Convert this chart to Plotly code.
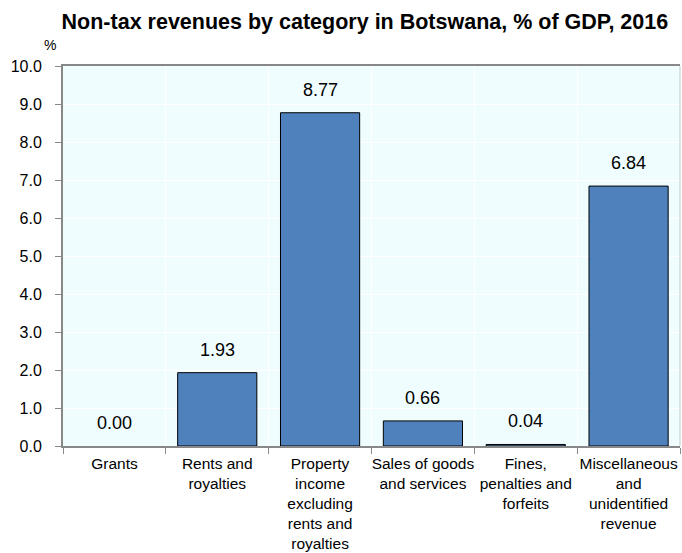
import plotly.graph_objects as go

categories = [
    "Grants",
    "Rents and<br>royalties",
    "Property<br>income<br>excluding<br>rents and<br>royalties",
    "Sales of goods<br>and services",
    "Fines,<br>penalties and<br>forfeits",
    "Miscellaneous<br>and<br>unidentified<br>revenue",
]
values = [0.00, 1.93, 8.77, 0.66, 0.04, 6.84]
y_ticks = [0, 1, 2, 3, 4, 5, 6, 7, 8, 9, 10]

font_family = "Liberation Sans, Arial, sans-serif"

fig = go.Figure()
fig.add_trace(go.Bar(
    x=categories,
    y=values,
    marker=dict(
        color="#4F81BD",
        line=dict(color="#000000", width=[0 if v == 0 else 1 for v in values]),
    ),
    hoverinfo="skip",
))

for c, v in zip(categories, values):
    fig.add_annotation(
        x=c, y=v, text=f"{v:.2f}", showarrow=False,
        yanchor="bottom", yshift=11,
        font=dict(family=font_family, size=18, color="#000000"),
    )

fig.add_annotation(
    xref="paper", yref="paper", x=-0.021, y=1.03, text="%",
    showarrow=False, xanchor="center", yanchor="bottom",
    font=dict(family=font_family, size=14, color="#000000"),
)

# faint right border
fig.add_shape(type="line", xref="paper", yref="paper", x0=1, x1=1, y0=0, y1=1,
              line=dict(color="#C8C8C8", width=1))

fig.update_layout(
    width=682, height=553,
    margin=dict(l=63, r=2, t=66, b=107),
    paper_bgcolor="#FFFFFF",
    plot_bgcolor="#F0FDFF",
    bargap=0.23,
    showlegend=False,
    title=dict(
        text="<b>Non-tax revenues by category in Botswana, % of GDP, 2016</b>",
        x=0.535, xanchor="center", y=0.962, yanchor="middle",
        font=dict(family=font_family, size=21.5, color="#000000"),
    ),
    font=dict(family=font_family, color="#000000"),
)

fig.update_xaxes(
    type="category",
    tickson="boundaries",
    ticks="outside", ticklen=6, tickcolor="#888888",
    showline=True, linecolor="#888888", linewidth=2, mirror=True,
    showgrid=True, gridcolor="#FFFFFF", gridwidth=1,
    ticklabelstandoff=2,
    tickfont=dict(family=font_family, size=15.5, color="#000000"),
    tickangle=0,
)
fig.update_yaxes(
    range=[0, 10],
    tickvals=y_ticks,
    ticktext=[f"{t:.1f}" for t in y_ticks],
    ticks="outside", ticklen=6, tickcolor="#888888",
    showline=True, linecolor="#888888", linewidth=2,
    showgrid=True, gridcolor="#FFFFFF", gridwidth=1,
    zeroline=False,
    ticklabelstandoff=10,
    tickfont=dict(family=font_family, size=16, color="#000000"),
)

fig.write_html("out.html")
